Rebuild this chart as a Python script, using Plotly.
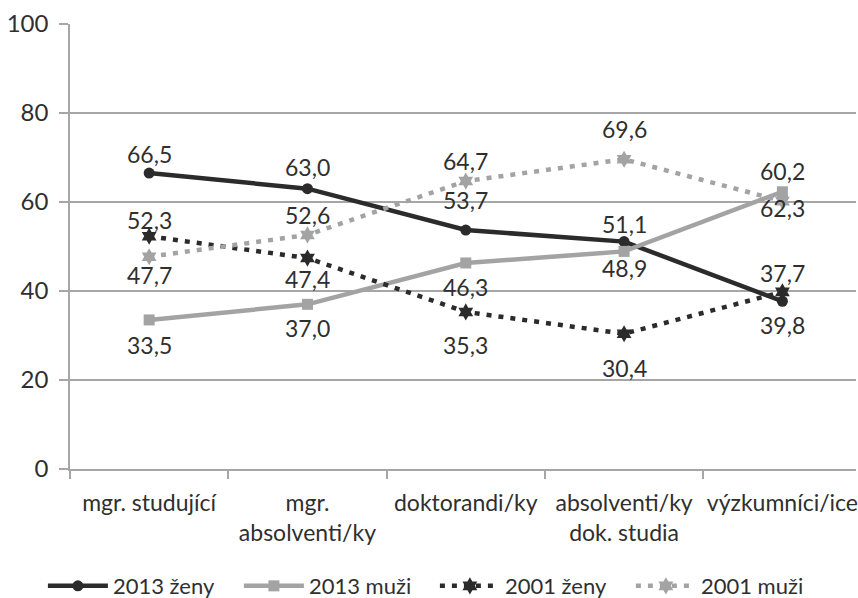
import plotly.graph_objects as go

categories = ["mgr. studující", "mgr.<br>absolventi/ky", "doktorandi/ky",
              "absolventi/ky<br>dok. studia", "výzkumníci/ice"]

zeny_2013 = [66.5, 63.0, 53.7, 51.1, 37.7]
muzi_2013 = [33.5, 37.0, 46.3, 48.9, 62.3]
zeny_2001 = [52.3, 47.4, 35.3, 30.4, 39.8]
muzi_2001 = [47.7, 52.6, 64.7, 69.6, 60.2]

y_ticks = [0, 20, 40, 60, 80, 100]

DARK = "#2b2b2b"
GRAY = "#a3a3a3"
GRID = "#a6a6a6"
TEXT = "#2f2f2f"
FONT = "Lato, 'Open Sans', sans-serif"

# (name, values, colour, dash, marker symbol, marker size, label shifts in px)
series = [
    ("2013 ženy", zeny_2013, DARK, "solid", "circle", 11, [19, 22, 30, 18, 28]),
    ("2013 muži", muzi_2013, GRAY, "solid", "square", 11, [-25, -24, -24, -17, -16]),
    ("2001 ženy", zeny_2001, DARK, "5px,7px", "hexagram", 13, [16, -21, -33, -34, -33]),
    ("2001 muži", muzi_2001, GRAY, "5px,7px", "hexagram", 13, [-18, 20, 20, 30, 30]),
]

fig = go.Figure()
annotations = []
for name, vals, color, dash, symbol, msize, shifts in series:
    fig.add_trace(go.Scatter(
        x=categories, y=vals, name=name, mode="lines+markers",
        line=dict(color=color, width=4.5, dash=dash),
        marker=dict(symbol=symbol, size=msize, color=color,
                    line=dict(width=0)),
    ))
    for c, v, s in zip(categories, vals, shifts):
        annotations.append(dict(
            x=c, y=v, yshift=s, text=f"{v:.1f}".replace(".", ","),
            showarrow=False, xref="x", yref="y",
            font=dict(family=FONT, size=23, color=TEXT),
        ))

fig.update_layout(
    width=858, height=598,
    margin=dict(l=70, r=0, t=24, b=129),
    paper_bgcolor="white", plot_bgcolor="white",
    font=dict(family=FONT, size=23, color=TEXT),
    annotations=annotations,
    showlegend=True,
    legend=dict(orientation="h", xref="container", x=0.05, xanchor="left",
                yref="container", y=0.02, yanchor="middle",
                font=dict(size=22, color=TEXT),
                entrywidth=121, entrywidthmode="pixels",
                itemwidth=60, tracegroupgap=0),
)

fig.update_xaxes(
    type="category", range=[-0.5, 4.465],
    showgrid=False, showline=True, linecolor=GRID, linewidth=1.5,
    ticks="outside", tickson="boundaries", ticklen=8, tickcolor=GRID,
    tickwidth=1.5, ticklabelstandoff=13,
    tickfont=dict(family=FONT, size=23, color=TEXT),
)
fig.update_yaxes(
    range=[0, 100], tickvals=y_ticks,
    showgrid=True, gridcolor=GRID, gridwidth=1.5,
    showline=True, linecolor=GRID, linewidth=1.5,
    ticks="outside", ticklen=9, tickcolor=GRID, tickwidth=1.5,
    ticklabelstandoff=6, zeroline=False,
    tickfont=dict(family=FONT, size=24, color=TEXT),
)

fig.write_html("out.html")
